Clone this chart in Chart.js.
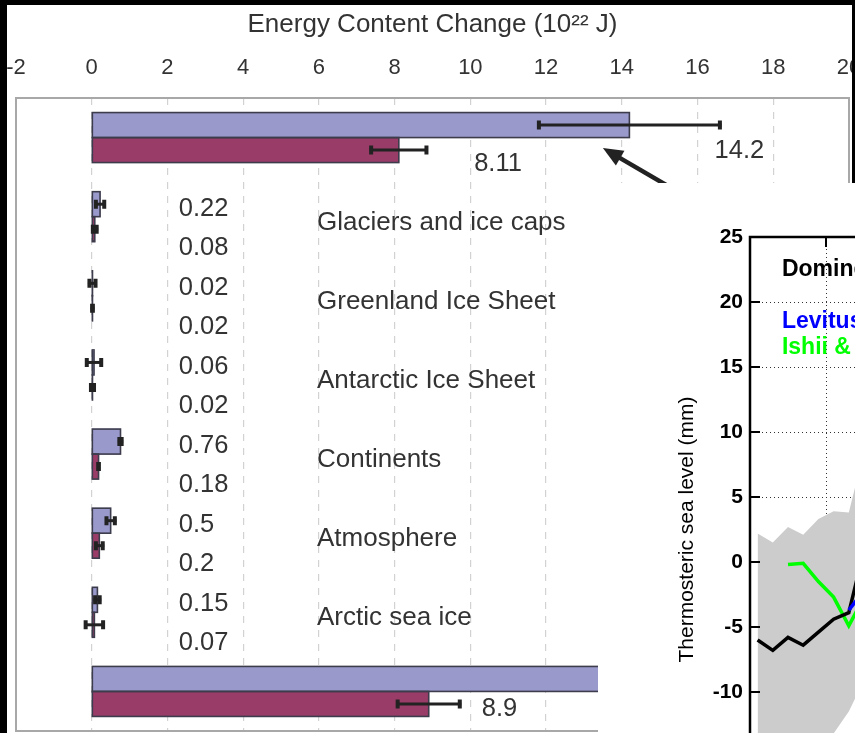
<!DOCTYPE html>
<html>
<head>
<meta charset="utf-8">
<script src="https://cdn.jsdelivr.net/npm/chart.js@4.4.1/dist/chart.umd.min.js"></script>
<style>
  html, body { margin:0; padding:0; }
  body { width:855px; height:733px; overflow:hidden; position:relative; background:#000; }
  #mainWrap { position:absolute; left:-20px; top:0; width:900px; height:733px; background:#fff; }
  .blk { position:absolute; background:#000; z-index:5; }
  #inset { position:absolute; left:598px; top:183px; width:257px; height:550px; overflow:hidden; background:#fff; z-index:10; }
  #insetInner { position:absolute; left:0; top:0; }
</style>
</head>
<body>
<div id="mainWrap"><canvas id="c1" width="900" height="733"></canvas></div>
<div class="blk" style="left:0;top:0;width:7px;height:733px"></div>
<div class="blk" style="left:0;top:0;width:855px;height:5px"></div>
<div class="blk" style="left:852px;top:0;width:3px;height:183px"></div>
<div id="inset"><div id="insetInner"><canvas id="c2" width="620" height="660"></canvas></div></div>
<script>
// ---------- Main chart data ----------
const categories = ["Ocean", "Glaciers and ice caps", "Greenland Ice Sheet", "Antarctic Ice Sheet",
                    "Continents", "Atmosphere", "Arctic sea ice", "Total"];
const periodA = [14.2, 0.22, 0.02, 0.06, 0.76, 0.5, 0.15, 15.9];
const periodB = [8.11, 0.08, 0.02, 0.02, 0.18, 0.2, 0.07, 8.9];
const errA = [2.43, 0.15, 0.12, 0.23, 0.07, 0.15, 0.10, 2.5];
const errB = [0.77, 0.09, 0.05, 0.08, 0.03, 0.13, 0.27, 0.86];
const xMin = -2, xMax = 20, xStep = 2;
const axisTitle = "Energy Content Change (10\u00B2\u00B2 J)";

// ---------- Inset data ----------
const years = [1950.5, 1951.5, 1952.5, 1953.5, 1954.5, 1955.5, 1956.5, 1957.5];
const domingues = [-6.0, -6.8, -5.8, -6.4, -5.4, -4.4, -3.9, 0.9];
const bandUpper = [2.2, 1.5, 2.7, 2.1, 3.3, 3.9, 3.8, 8.5];
const bandLower = [-16.5, -16.5, -16.0, -15.5, -14.5, -13.2, -11.5, -9.1];
const ishiiYears = [1952.5, 1953.5, 1954.5, 1955.5, 1956.5, 1957.5];
const ishii = [-0.2, -0.1, -1.5, -2.7, -4.9, -2.7];
const levitusYears = [1956.5, 1957.5];
const levitus = [-3.7, -2.2];
const insetLegend = ["Domingues et al.", "Levitus et al.", "Ishii & Kimoto"];
const insetYTitle = "Thermosteric sea level (mm)";

Chart.defaults.font.family = "'Liberation Sans', Arial, sans-serif";

const TXT = '#333333';
const BAR_EDGE = '#3c3c4c';

const mainPlugin = {
  id: 'mainDecor',
  beforeDatasetsDraw(chart) {
    const {ctx, chartArea: a} = chart;
    ctx.save();
    ctx.strokeStyle = '#a8a8a8';
    ctx.lineWidth = 2;
    ctx.strokeRect(a.left, a.top, a.right - a.left, a.bottom - a.top);
    ctx.restore();
  },
  afterDatasetsDraw(chart) {
    const {ctx, scales: {x, y}} = chart;
    ctx.save();
    // bar outlines (so very thin bars still show as a line)
    [0, 1].forEach(di => {
      chart.getDatasetMeta(di).data.forEach(bar => {
        ctx.strokeStyle = BAR_EDGE;
        ctx.lineWidth = 1.6;
        ctx.strokeRect(bar.base, bar.y - bar.height / 2, bar.x - bar.base, bar.height);
      });
    });
    // error bars
    [[periodA, errA], [periodB, errB]].forEach(([vals, errs], di) => {
      const meta = chart.getDatasetMeta(di);
      meta.data.forEach((bar, i) => {
        const x1 = x.getPixelForValue(vals[i] - errs[i]);
        const x2 = x.getPixelForValue(vals[i] + errs[i]);
        const yy = bar.y;
        ctx.strokeStyle = '#222';
        ctx.lineWidth = 3;
        ctx.lineCap = 'butt';
        ctx.beginPath(); ctx.moveTo(x1, yy); ctx.lineTo(x2, yy); ctx.stroke();
        ctx.lineWidth = 4;
        ctx.beginPath();
        ctx.moveTo(x1 + 1.5, yy - 4.5); ctx.lineTo(x1 + 1.5, yy + 4.5);
        ctx.moveTo(x2 - 1.5, yy - 4.5); ctx.lineTo(x2 - 1.5, yy + 4.5);
        ctx.stroke();
      });
    });
    // text labels
    ctx.fillStyle = TXT;
    ctx.textBaseline = 'middle';
    ctx.textAlign = 'left';
    ctx.font = "25.5px 'Liberation Sans', Arial, sans-serif";
    for (let i = 1; i < categories.length - 1; i++) {
      const cy = y.getPixelForValue(i);
      ctx.fillText(String(periodA[i]), x.getPixelForValue(2.3), cy - 8);
      ctx.fillText(String(periodB[i]), x.getPixelForValue(2.3), cy + 31);
    }
    ctx.font = "26px 'Liberation Sans', Arial, sans-serif";
    for (let i = 1; i < categories.length - 1; i++) {
      const cy = y.getPixelForValue(i);
      ctx.fillText(categories[i], x.getPixelForValue(5.95), cy + 6);
    }
    ctx.font = "25.5px 'Liberation Sans', Arial, sans-serif";
    const c0 = y.getPixelForValue(0);
    const cLast = y.getPixelForValue(categories.length - 1);
    ctx.fillText(String(periodA[0]), x.getPixelForValue(16.45), c0 + 13);
    ctx.fillText(String(periodB[0]), x.getPixelForValue(10.1), c0 + 26);
    ctx.fillText(String(periodB[categories.length - 1]), x.getPixelForValue(10.3), cLast + 17.5);
    // arrow pointing to ocean bar
    const tipX = x.getPixelForValue(13.5), tipY = c0 + 10.5;
    const ang = Math.atan2(35, 60);
    const tailX = tipX + 120 * Math.cos(ang), tailY = tipY + 120 * Math.sin(ang);
    ctx.strokeStyle = '#222';
    ctx.fillStyle = '#222';
    ctx.lineWidth = 4.5;
    ctx.beginPath();
    ctx.moveTo(tipX + 14 * Math.cos(ang), tipY + 14 * Math.sin(ang));
    ctx.lineTo(tailX, tailY);
    ctx.stroke();
    const hl = 20, hw = 8.5;
    const bx = tipX + hl * Math.cos(ang), by = tipY + hl * Math.sin(ang);
    ctx.beginPath();
    ctx.moveTo(tipX, tipY);
    ctx.lineTo(bx + hw * Math.sin(ang), by - hw * Math.cos(ang));
    ctx.lineTo(bx - hw * Math.sin(ang), by + hw * Math.cos(ang));
    ctx.closePath();
    ctx.fill();
    ctx.restore();
  }
};

new Chart(document.getElementById('c1'), {
  type: 'bar',
  data: {
    labels: categories,
    datasets: [
      { label: 'A', data: periodA, backgroundColor: '#9999cc', borderWidth: 0 },
      { label: 'B', data: periodB, backgroundColor: '#993d68', borderWidth: 0 }
    ]
  },
  options: {
    indexAxis: 'y',
    responsive: false,
    animation: false,
    barThickness: 25,
    layout: { padding: { left: 36, right: 31, top: 0, bottom: 2 } },
    plugins: { legend: { display: false }, tooltip: { enabled: false } },
    scales: {
      x: {
        position: 'top',
        min: xMin, max: xMax,
        ticks: { stepSize: xStep, color: TXT, padding: 17, font: { size: 22 } },
        grid: { color: '#d2d2d2', lineWidth: 1.2, drawTicks: false },
        border: { display: false, dash: [7, 7] },
        title: { display: true, text: axisTitle, color: TXT, font: { size: 26 }, padding: { top: 9, bottom: 0 } },
        afterFit: s => { s.height = 98; }
      },
      y: { display: false }
    }
  },
  plugins: [mainPlugin]
});

// ---------- Inset ----------
const insetPlugin = {
  id: 'insetDecor',
  afterDraw(chart) {
    const {ctx, chartArea: a, scales: {x, y}} = chart;
    ctx.save();
    ctx.strokeStyle = '#000';
    ctx.lineWidth = 2.5;
    ctx.beginPath();
    ctx.moveTo(a.left, a.bottom); ctx.lineTo(a.left, a.top); ctx.lineTo(a.right, a.top); ctx.lineTo(a.right, a.bottom); ctx.lineTo(a.left, a.bottom);
    ctx.stroke();
    ctx.lineWidth = 2;
    y.ticks.forEach(t => {
      const py = y.getPixelForValue(t.value);
      ctx.beginPath(); ctx.moveTo(a.left, py); ctx.lineTo(a.left + 10, py); ctx.stroke();
    });
    x.ticks.forEach(t => {
      const px = x.getPixelForValue(t.value);
      ctx.beginPath(); ctx.moveTo(px, a.top); ctx.lineTo(px, a.top + 10); ctx.stroke();
    });
    ctx.font = "bold 23px 'Liberation Sans', Arial, sans-serif";
    ctx.textBaseline = 'middle';
    ctx.textAlign = 'left';
    const lx = x.getPixelForValue(1952.1);
    ctx.fillStyle = '#000';
    ctx.fillText(insetLegend[0], lx, y.getPixelForValue(22.5));
    ctx.fillStyle = '#0000ff';
    ctx.fillText(insetLegend[1], lx, y.getPixelForValue(18.5));
    ctx.fillStyle = '#00ff00';
    ctx.fillText(insetLegend[2], lx, y.getPixelForValue(16.5));
    ctx.restore();
  }
};

const pts = (xs, ys) => xs.map((t, i) => ({ x: t, y: ys[i] }));

new Chart(document.getElementById('c2'), {
  type: 'line',
  data: {
    datasets: [
      { label: 'Levitus', data: pts(levitusYears, levitus), borderColor: '#0000ff', borderWidth: 3.5, pointRadius: 0, fill: false, tension: 0 },
      { label: 'Domingues', data: pts(years, domingues), borderColor: '#000000', borderWidth: 3.5, pointRadius: 0, fill: false, tension: 0 },
      { label: 'Ishii', data: pts(ishiiYears, ishii), borderColor: '#00ff00', borderWidth: 3.5, pointRadius: 0, fill: false, tension: 0 },
      { label: 'Upper', data: pts(years, bandUpper), borderWidth: 0, borderColor: 'rgba(0,0,0,0)', pointRadius: 0, fill: '+1', backgroundColor: '#cccccc', tension: 0 },
      { label: 'Lower', data: pts(years, bandLower), borderWidth: 0, borderColor: 'rgba(0,0,0,0)', pointRadius: 0, fill: false, tension: 0 }
    ]
  },
  options: {
    responsive: false,
    animation: false,
    layout: { padding: { left: 0, top: 54, right: 12, bottom: 0 } },
    plugins: { legend: { display: false }, tooltip: { enabled: false } },
    scales: {
      x: {
        type: 'linear', min: 1950, max: 1980,
        ticks: { display: false, stepSize: 5 },
        grid: { color: '#333', lineWidth: 1, drawTicks: false },
        border: { display: false, dash: [1, 3] },
        afterFit: s => { s.height = 21; }
      },
      y: {
        min: -20, max: 25,
        ticks: { stepSize: 5, padding: 7, color: '#000', font: { size: 21, weight: 'bold' } },
        grid: { color: '#333', lineWidth: 1, drawTicks: false },
        border: { display: false, dash: [1, 3] },
        title: { display: true, text: insetYTitle, color: '#000', font: { size: 21 }, padding: { top: 77, bottom: 0 } },
        afterFit: s => { s.width = 152; }
      }
    }
  },
  plugins: [insetPlugin]
});
</script>
</body>
</html>
